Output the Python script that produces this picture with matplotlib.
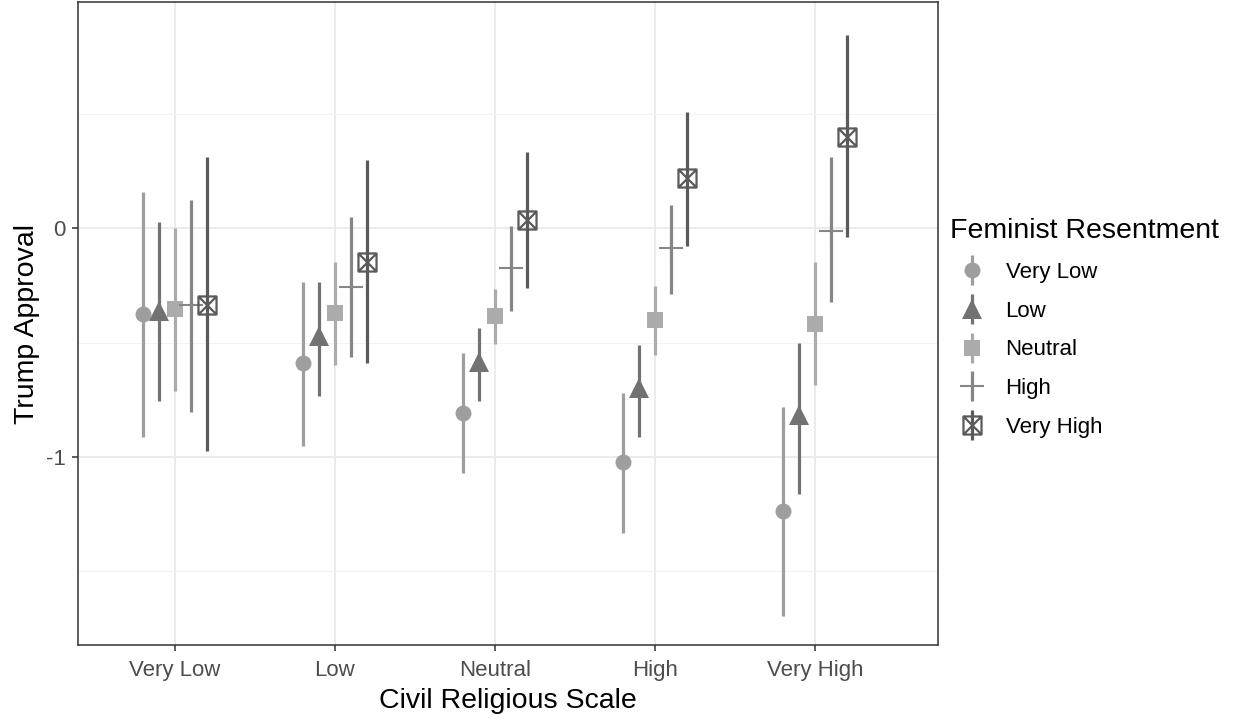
import numpy as np
import matplotlib
matplotlib.use("Agg")
import matplotlib.pyplot as plt
from matplotlib.path import Path
from matplotlib.lines import Line2D
from matplotlib.legend_handler import HandlerTuple

plt.rcParams['font.family'] = ['Liberation Sans', 'DejaVu Sans']

categories = ["Very Low", "Low", "Neutral", "High", "Very High"]
groups = ["Very Low", "Low", "Neutral", "High", "Very High"]

# estimates, lower, upper for each Feminist Resentment level across Civil Religious Scale
est = {
    "Very Low":  [-0.376, -0.590, -0.808, -1.022, -1.236],
    "Low":       [-0.362, -0.472, -0.585, -0.699, -0.817],
    "Neutral":   [-0.354, -0.371, -0.384, -0.402, -0.419],
    "High":      [-0.336, -0.258, -0.175, -0.087, -0.013],
    "Very High": [-0.336, -0.148, 0.035, 0.218, 0.397],
}
lower = {
    "Very Low":  [-0.913, -0.952, -1.070, -1.330, -1.694],
    "Low":       [-0.755, -0.734, -0.755, -0.913, -1.160],
    "Neutral":   [-0.712, -0.598, -0.507, -0.555, -0.686],
    "High":      [-0.803, -0.563, -0.362, -0.288, -0.323],
    "Very High": [-0.974, -0.590, -0.262, -0.079, -0.040],
}
upper = {
    "Very Low":  [0.157, -0.236, -0.546, -0.720, -0.782],
    "Low":       [0.026, -0.236, -0.437, -0.511, -0.502],
    "Neutral":   [0.000, -0.148, -0.266, -0.253, -0.148],
    "High":      [0.122, 0.048, 0.009, 0.100, 0.310],
    "Very High": [0.310, 0.297, 0.332, 0.507, 0.843],
}

boxx = Path([(-1, -1), (1, -1), (1, 1), (-1, 1), (-1, -1), (1, 1), (-1, 1), (1, -1)],
            [Path.MOVETO, Path.LINETO, Path.LINETO, Path.LINETO, Path.CLOSEPOLY,
             Path.LINETO, Path.MOVETO, Path.LINETO])

styles = {
    "Very Low":  dict(marker='o', color='#9e9e9e', ms=11.5, mfc='#9e9e9e', mew=0),
    "Low":       dict(marker='^', color='#727272', ms=15, mfc='#727272', mew=0),
    "Neutral":   dict(marker='s', color='#ababab', ms=12, mfc='#ababab', mew=0),
    "High":      dict(marker='+', color='#868686', ms=17, mfc='#868686', mew=1.5),
    "Very High": dict(marker=boxx, color='#5a5a5a', ms=13, mfc='none', mew=1.6),
}

fig = plt.figure(figsize=(12.36, 7.19), dpi=100)
ax = fig.add_axes([78/1236, 74/719, 860/1236, 643/719])

x = np.arange(len(categories))
offsets = [-0.2, -0.1, 0.0, 0.1, 0.2]
for g, off in zip(groups, offsets):
    st = styles[g]
    e = np.array(est[g]); lo = np.array(lower[g]); hi = np.array(upper[g])
    ax.errorbar(x + off, e, yerr=[e - lo, hi - e], fmt='none', ecolor=st['color'],
                elinewidth=2.3, capsize=0, zorder=3)
    ax.plot(x + off, e, linestyle='none', marker=st['marker'], color=st['color'],
            markersize=st['ms'], markerfacecolor=st['mfc'], markeredgecolor=st['color'],
            markeredgewidth=st['mew'], zorder=4)

ax.set_xlim(-0.606, 4.769)
ax.set_ylim(-1.821, 0.987)
ax.set_xticks(x)
ax.set_xticklabels(categories)
ax.set_yticks([0, -1])
ax.set_yticklabels(['0', '-1'])
ax.set_yticks([0.5, -0.5, -1.5], minor=True)
ax.grid(True, which='major', color='#ebebeb', linewidth=1.4, zorder=0)
ax.grid(True, which='minor', axis='y', color='#f2f2f2', linewidth=0.8, zorder=0)
ax.set_axisbelow(True)
ax.tick_params(axis='both', which='major', length=4, width=1.1, color='#333333',
               labelcolor='#4d4d4d', labelsize=16, pad=5)
ax.tick_params(axis='x', which='major', pad=7)
ax.tick_params(axis='y', which='minor', length=0)
for s in ax.spines.values():
    s.set_color('#333333')
    s.set_linewidth(1.1)

ax.set_xlabel('Civil Religious Scale', fontsize=20.5, color='black', labelpad=5)
ax.set_ylabel('Trump Approval', fontsize=20.5, color='black', labelpad=4)

leg_handles = []
for g in groups:
    st = styles[g]
    vline = Line2D([], [], linestyle='none', marker='|', color=st['color'],
                   markersize=21, markeredgewidth=2.3)
    mk = Line2D([], [], linestyle='none', marker=st['marker'], color=st['color'],
                markersize=st['ms'], markerfacecolor=st['mfc'], markeredgecolor=st['color'],
                markeredgewidth=st['mew'])
    leg_handles.append((vline, mk))

leg = fig.legend(leg_handles, groups, handler_map={tuple: HandlerTuple(ndivide=1, pad=0)},
                 loc='upper left', bbox_to_anchor=(950/1236, 1 - 218/719), frameon=False,
                 title='Feminist Resentment', title_fontsize=20.5, fontsize=16,
                 labelspacing=0.8, handlelength=2.0, handletextpad=0.5, borderpad=0,
                 borderaxespad=0)
leg._legend_box.align = 'left'

fig.savefig('out.png', dpi=100)
